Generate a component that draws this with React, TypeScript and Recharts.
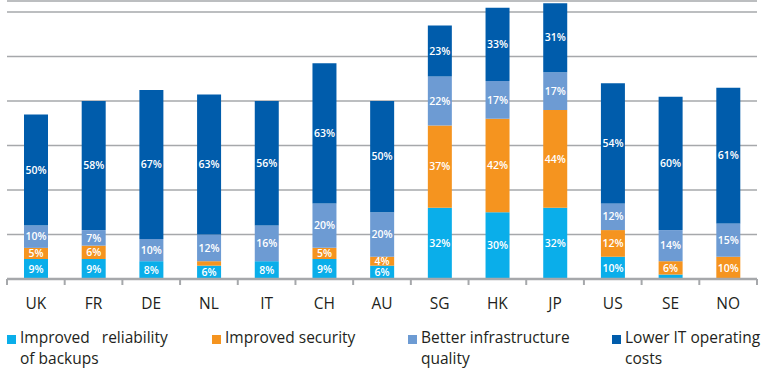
import { BarChart, Bar, XAxis, YAxis, CartesianGrid, LabelList } from 'recharts';

const categories = ['UK', 'FR', 'DE', 'NL', 'IT', 'CH', 'AU', 'SG', 'HK', 'JP', 'US', 'SE', 'NO'];
const backups = [9, 9, 8, 6, 8, 9, 6, 32, 30, 32, 10, 2, 0];
const security = [5, 6, 0, 2, 0, 5, 4, 37, 42, 44, 12, 6, 10];
const infrastructure = [10, 7, 10, 12, 16, 20, 20, 22, 17, 17, 12, 14, 15];
const costs = [50, 58, 67, 63, 56, 63, 50, 23, 33, 31, 54, 60, 61];
const yTicks = [0, 20, 40, 60, 80, 100, 120];

const series = [
  { key: 'backups', name: 'Improved reliability of backups', lines: ['Improved\u00a0\u00a0\u00a0reliability', 'of backups'], color: '#0AAEEA' },
  { key: 'security', name: 'Improved security', lines: ['Improved security'], color: '#F5941F' },
  { key: 'infrastructure', name: 'Better infrastructure quality', lines: ['Better infrastructure', 'quality'], color: '#6D9BD3' },
  { key: 'costs', name: 'Lower IT operating costs', lines: ['Lower IT operating', 'costs'], color: '#005CAB' },
];

const data = categories.map((name, i) => ({
  name,
  backups: backups[i],
  security: security[i],
  infrastructure: infrastructure[i],
  costs: costs[i],
}));

const W = 762;
const H = 372;
const margin = { top: 1, right: 5, left: 7, bottom: 63 };
const step = (W - margin.left - margin.right) / categories.length;
const FONT = '"Open Sans", sans-serif';
const GRAY = '#A6A8AB';

function CountryTick(props: any) {
  const { x, y, payload, index } = props;
  return (
    <g>
      {index === 0 && <line x1={x - step / 2} x2={x - step / 2} y1={y} y2={y + 6} stroke={GRAY} strokeWidth={2} />}
      <line x1={x + step / 2} x2={x + step / 2} y1={y} y2={y + 6} stroke={GRAY} strokeWidth={2} />
      <text x={x} y={y + 30} textAnchor="middle" fontSize={15.5} fontFamily={FONT} fill="#231F20">
        {payload.value}
      </text>
    </g>
  );
}

const legendX = [7, 212, 408, 612];

export default function App() {
  return (
    <div style={{ position: 'absolute', left: 0, top: 0, width: W, height: H, background: '#fff' }}>
      <BarChart width={W} height={H} data={data} margin={margin} barSize={24}>
        <CartesianGrid vertical={false} stroke={GRAY} strokeWidth={1.5} />
        <YAxis hide domain={[0, 125]} ticks={yTicks} />
        <XAxis
          dataKey="name"
          height={30}
          interval={0}
          tickSize={0}
          tickMargin={0}
          axisLine={{ stroke: GRAY, strokeWidth: 2.5 }}
          tickLine={false}
          tick={<CountryTick />}
        />
        {series.map((s) => (
          <Bar key={s.key} dataKey={s.key} name={s.name} stackId="a" fill={s.color} isAnimationActive={false}>
            <LabelList
              dataKey={s.key}
              position="center"
              formatter={(v: any) => (v >= 4 ? `${v}%` : '')}
              fill="#fff"
              fontSize={10.5}
              fontWeight={600}
              fontFamily={FONT}
            />
          </Bar>
        ))}
      </BarChart>
      {series.map((s, i) => (
        <div
          key={s.key}
          style={{
            position: 'absolute',
            left: legendX[i],
            top: 327,
            fontFamily: FONT,
            fontSize: 15.5,
            lineHeight: '21px',
            color: '#231F20',
            whiteSpace: 'nowrap',
          }}
        >
          <span style={{ position: 'absolute', left: 0, top: 8, width: 9, height: 9, background: s.color }} />
          <div style={{ marginLeft: 13 }}>
            {s.lines.map((l) => (
              <div key={l}>{l}</div>
            ))}
          </div>
        </div>
      ))}
    </div>
  );
}
